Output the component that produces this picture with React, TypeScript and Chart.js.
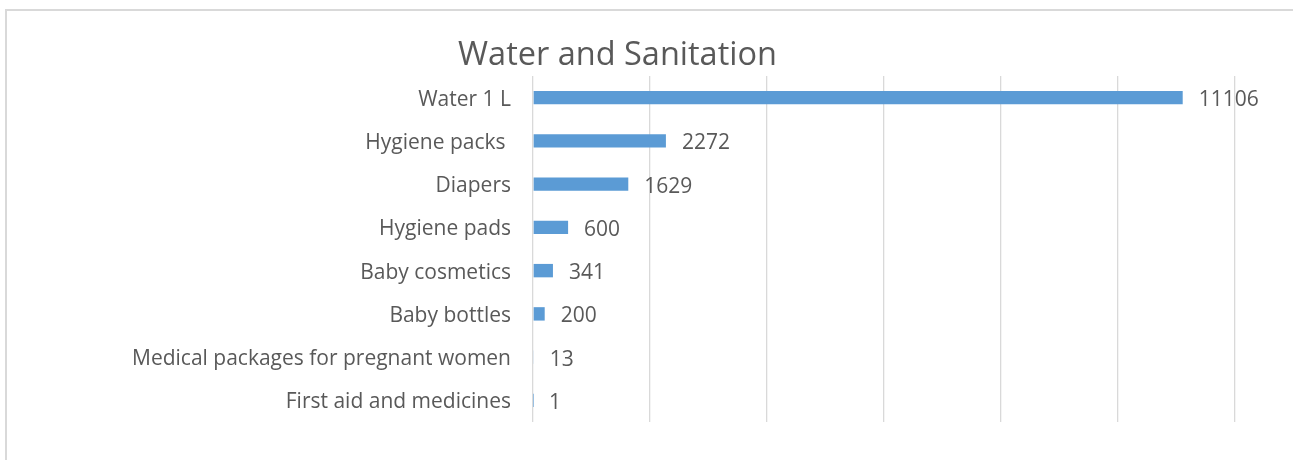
import React, { useEffect, useRef } from "react";
import { Chart, registerables } from "chart.js";

Chart.register(...registerables);

const titleText = "Water and Sanitation";
const categories = [
  "Water 1 L",
  "Hygiene packs ",
  "Diapers",
  "Hygiene pads",
  "Baby cosmetics",
  "Baby bottles",
  "Medical packages for pregnant women",
  "First aid and medicines",
];
const values = [11106, 2272, 1629, 600, 341, 200, 13, 1];
const axisMin = 0;
const axisMax = 12000;
const axisStep = 2000;

const FONT = "'Open Sans', sans-serif";
const TEXT = "#595959";

const valueLabels = {
  id: "valueLabels",
  afterDatasetsDraw(chart: any) {
    const ctx = chart.ctx;
    const meta = chart.getDatasetMeta(0);
    ctx.save();
    ctx.font = `21px ${FONT}`;
    ctx.fillStyle = TEXT;
    ctx.textAlign = "left";
    ctx.textBaseline = "middle";
    meta.data.forEach((bar: any, i: number) => {
      ctx.fillText(String(values[i]), bar.x + 16, bar.y + 2.5);
    });
    ctx.restore();
  },
};

const frame = {
  id: "frame",
  beforeDraw(chart: any) {
    const ctx = chart.ctx;
    ctx.save();
    ctx.fillStyle = "#ffffff";
    ctx.fillRect(0, 0, chart.width, chart.height);
    ctx.strokeStyle = "#d9d9d9";
    ctx.lineWidth = 2;
    ctx.strokeRect(6, 10, chart.width + 20, chart.height + 20);
    ctx.restore();
  },
};

export default function App() {
  const ref = useRef<HTMLCanvasElement>(null);
  useEffect(() => {
    if (!ref.current) return;
    const chart = new Chart(ref.current, {
      type: "bar",
      data: {
        labels: categories,
        datasets: [
          {
            data: values,
            backgroundColor: "#5B9BD5",
            categoryPercentage: 1,
            barPercentage: 0.31,
          },
        ],
      },
      options: {
        indexAxis: "y",
        animation: false,
        responsive: false,
        layout: { padding: { left: 0, right: 58, top: 0, bottom: 38 } },
        plugins: {
          legend: { display: false },
          tooltip: { enabled: false },
          title: {
            display: true,
            text: titleText,
            color: TEXT,
            font: { family: FONT, size: 32.5, weight: "normal" },
            padding: { top: 36, bottom: 1 },
          },
        },
        scales: {
          x: {
            min: axisMin,
            max: axisMax,
            ticks: { display: false, stepSize: axisStep },
            grid: { color: "#d9d9d9", lineWidth: 1.3, drawTicks: false },
            border: { display: false },
            afterFit(scale: any) {
              scale.height = 0;
            },
          },
          y: {
            ticks: {
              color: TEXT,
              font: { family: FONT, size: 21 },
              padding: 22,
              labelOffset: 2,
              autoSkip: false,
            },
            grid: { display: false, drawTicks: false },
            border: { display: false },
            afterFit(scale: any) {
              scale.width = 533;
            },
          },
        },
      },
      plugins: [frame, valueLabels],
    });
    return () => chart.destroy();
  }, []);
  return (
    <div style={{ position: "fixed", left: 0, top: 0, width: 1293, height: 460 }}>
      <canvas ref={ref} width={1293} height={460} />
    </div>
  );
}
